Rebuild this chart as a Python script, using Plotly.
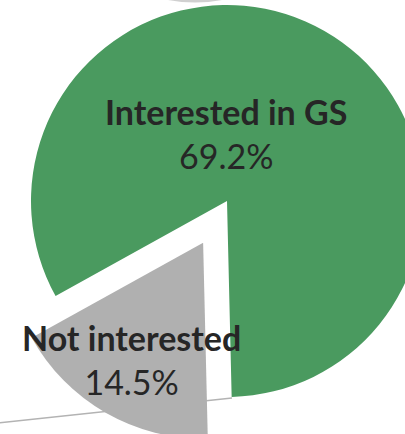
import math
import plotly.graph_objects as go

# Survey shares (percent of respondents)
labels = ["Interested in GS", "Not interested"]
values = [69.2, 14.5]
colors = ["#4a9a5f", "#b0b0b0"]
pulls = [0.0, 0.245]

# Canvas is a little larger than the viewport so the rim of the pie runs off the edge
W, H = 470, 470
CX, CY = 227, 201      # pie centre in pixels (from top-left)
R = 196                # pie radius in pixels
ROTATION = 241         # start of the first slice, degrees clockwise from 12 o'clock

TEXT = "#262626"
FONT = "Lato"

fig = go.Figure()

total = sum(values)
start = ROTATION
for i, v in enumerate(values):
    span = v / total * 360.0
    mid = math.radians(start + span / 2.0)
    off = pulls[i] * R
    px = CX + off * math.sin(mid)
    py = CY - off * math.cos(mid)
    # one trace per slice so each can be offset freely; the other slice is left transparent
    slice_colors = [c if j == i else "rgba(0,0,0,0)" for j, c in enumerate(colors)]
    fig.add_trace(go.Pie(
        labels=labels,
        values=values,
        sort=False,
        direction="clockwise",
        rotation=ROTATION if ROTATION <= 180 else ROTATION - 360,
        marker=dict(colors=slice_colors, line=dict(width=0)),
        textinfo="none",
        hoverinfo="skip",
        showlegend=False,
        domain=dict(x=[(px - R) / W, (px + R) / W],
                    y=[1 - (py + R) / H, 1 - (py - R) / H]),
    ))
    start += span

# slice labels: category name in bold, value underneath
label_px = [(226, 133), (131, 359)]
for (lx, ly), name, v in zip(label_px, labels, values):
    fig.add_annotation(
        x=lx / W, y=1 - ly / H, xref="paper", yref="paper",
        xanchor="center", yanchor="middle", showarrow=False, align="center",
        text=f"<b>{name}</b><br>{v:.1f}%",
        font=dict(family=FONT, size=34, color=TEXT),
    )

# thin rule running behind the lower slice
fig.add_shape(type="line", xref="paper", yref="paper", layer="below",
              x0=-2 / W, y0=1 - 423 / H, x1=232 / W, y1=1 - 398 / H,
              line=dict(color="#b3b3b3", width=1.5))

# faint grey sliver along the top edge
fig.add_shape(type="path", xref="paper", yref="paper", layer="below",
              path=(f"M {168 / W},{1.0} Q {195 / W},{1 - 5 / H} {222 / W},{1.0} Z"),
              fillcolor="#c4c4c4", line=dict(width=0), opacity=0.8)

fig.update_layout(
    width=W, height=H,
    margin=dict(l=0, r=0, t=0, b=0),
    paper_bgcolor="white",
    plot_bgcolor="white",
)

fig.write_html("out.html")
